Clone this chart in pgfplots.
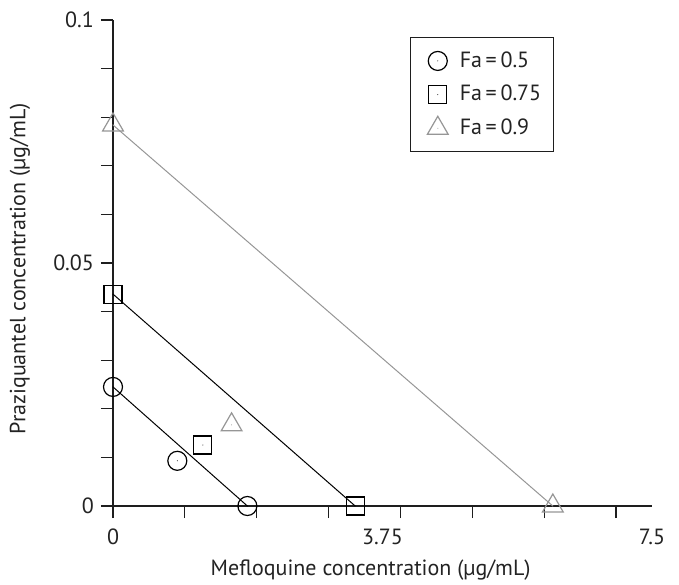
\documentclass[border=0pt]{standalone}
\usepackage{fontspec}
\setmainfont{PT Sans}
\usepackage{pgfplots}
\pgfplotsset{compat=1.18}
\definecolor{txt}{RGB}{35,35,35}
\definecolor{axisc}{RGB}{30,30,30}
\definecolor{grayline}{RGB}{150,150,150}

% open marks with a small centre dot
\pgfdeclareplotmark{dcircle}{%
  \pgfpathcircle{\pgfpointorigin}{\pgfplotmarksize}\pgfusepathqstroke
  \pgfpathcircle{\pgfpointorigin}{0.25pt}\pgfusepathqfill}
\pgfdeclareplotmark{dsquare}{%
  \pgfpathrectangle{\pgfpoint{-\pgfplotmarksize}{-\pgfplotmarksize}}{\pgfpoint{2\pgfplotmarksize}{2\pgfplotmarksize}}\pgfusepathqstroke
  \pgfpathcircle{\pgfpointorigin}{0.25pt}\pgfusepathqfill}
\pgfdeclareplotmark{dtriangle}{%
  \pgfpathmoveto{\pgfqpointpolar{90}{\pgfplotmarksize}}%
  \pgfpathlineto{\pgfqpointpolar{210}{\pgfplotmarksize}}%
  \pgfpathlineto{\pgfqpointpolar{-30}{\pgfplotmarksize}}%
  \pgfpathclose\pgfusepathqstroke
  \pgfpathcircle{\pgfpointorigin}{0.25pt}\pgfusepathqfill}

\begin{document}
\begin{tikzpicture}[font=\fontsize{11}{13}\selectfont, text=txt]
\begin{axis}[
  scale only axis,
  width=269.5pt, height=243pt,
  xmin=0, xmax=7.5, ymin=0, ymax=0.1,
  axis lines=left,
  axis line style={-, color=axisc, line width=0.6pt},
  tick style={color=axisc, line width=0.6pt},
  tick align=outside,
  major tick length=6pt,
  xtick={0,1,2,3,4,5,6,7},
  xticklabels={},
  extra x ticks={0,3.75,7.5},
  extra x tick labels={0,3.75,7.5},
  extra x tick style={major tick length=0pt, xticklabel style={yshift=-8pt}},
  ytick={0,0.01,0.02,0.03,0.04,0.05,0.06,0.07,0.08,0.09,0.1},
  yticklabels={0,,,,,0.05,,,,,0.1},
  /pgf/number format/assume math mode=true,
  xlabel={Mefloquine concentration (µg/mL)},
  ylabel={Praziquantel concentration (µg/mL)},
  x label style={at={(axis description cs:0.478,-0.1317)}, anchor=center},
  y label style={at={(axis description cs:-0.1725,0.488)}, anchor=center},
  clip=false,
  legend style={at={(axis description cs:0.551,0.965)}, anchor=north west,
    draw=axisc, line width=0.6pt, inner xsep=4pt, inner ysep=5pt,
    row sep=3.5pt, font=\fontsize{11}{13}\selectfont},
  legend cell align=left,
  legend image code/.code={%
    \path (0pt,0pt) (18pt,0pt);
    \draw[#1] plot coordinates {(9.3pt,0pt)};},
]
% combination points (legend entries)
\addplot[only marks, mark=dcircle, mark size=4.75pt, line width=0.6pt, color=black]
  coordinates {(0.895,0.0093)};
\addlegendentry{Fa\,=\,0.5}
\addplot[only marks, mark=dsquare, mark size=4.5pt, line width=0.6pt, color=black]
  coordinates {(1.25,0.01255)};
\addlegendentry{Fa\,=\,0.75}
\addplot[only marks, mark=dtriangle, mark size=6pt, line width=0.6pt, color=grayline]
  coordinates {(1.65,0.0167)};
\addlegendentry{Fa\,=\,0.9}
% additivity lines
\addplot[forget plot, color=black, line width=0.5pt, mark=dcircle, mark size=4.75pt,
  mark options={line width=0.6pt}]
  coordinates {(0,0.0245) (1.87,0)};
\addplot[forget plot, color=black, line width=0.5pt, mark=dsquare, mark size=4.5pt,
  mark options={line width=0.6pt}]
  coordinates {(0,0.0436) (3.37,0)};
\addplot[forget plot, color=grayline, line width=0.5pt, mark=dtriangle, mark size=6pt,
  mark options={line width=0.6pt}]
  coordinates {(0,0.0784) (6.12,0)};
\end{axis}
\pgfresetboundingbox
\useasboundingbox (-56.5pt,-39pt) rectangle (283pt,253pt);
\end{tikzpicture}
\end{document}
